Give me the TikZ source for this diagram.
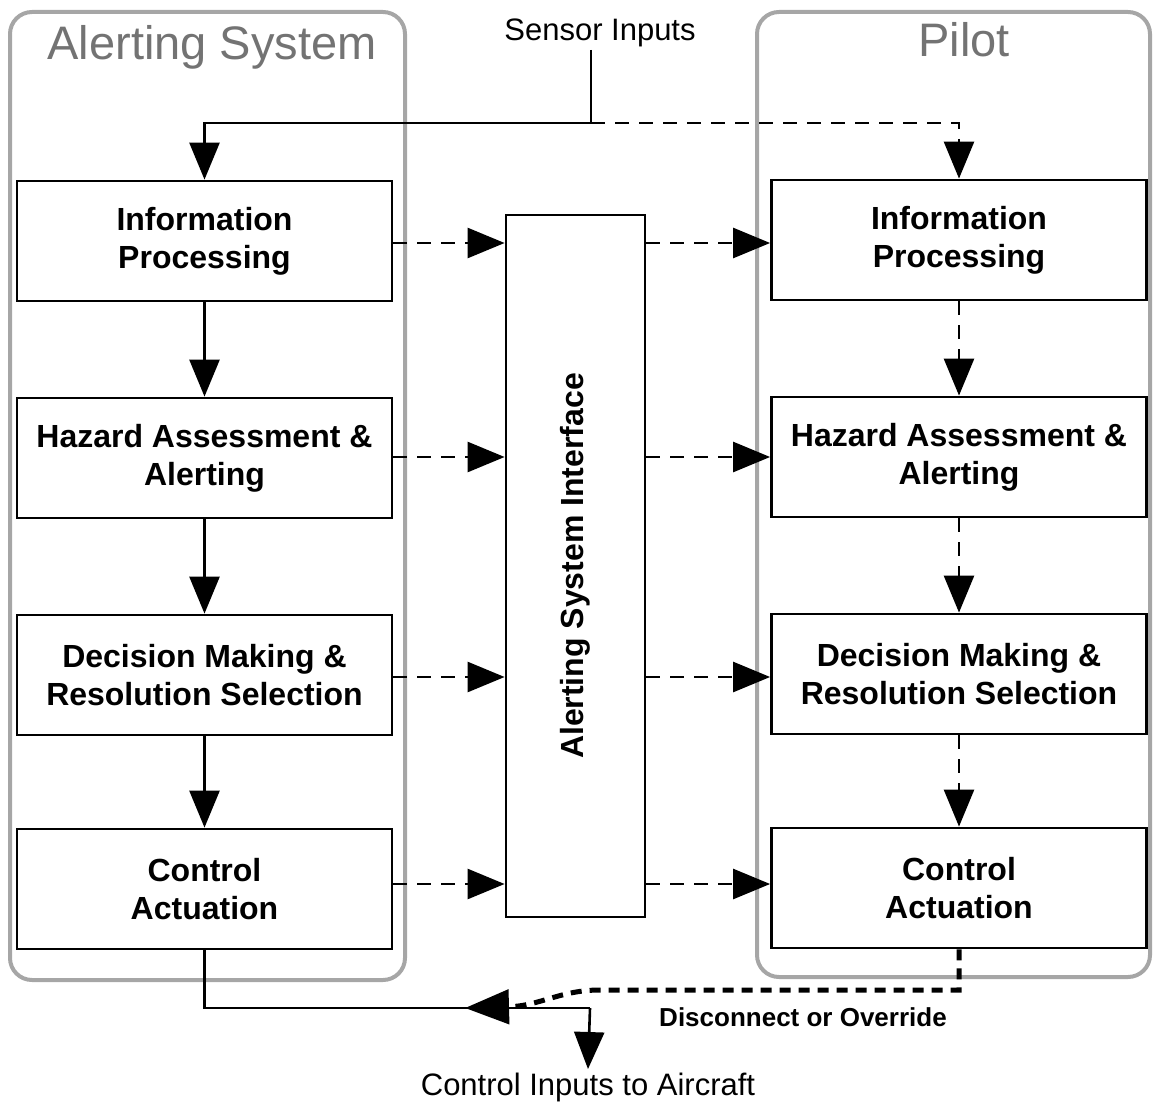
\documentclass[tikz,border=0pt]{standalone}
\usepackage{fontspec}
\setmainfont{Liberation Sans}
\usetikzlibrary{arrows.meta}
\begin{document}
\begin{tikzpicture}[x=1pt,y=-1pt,
  tip/.style={-{Triangle[length=37pt,width=30pt]}},
  conn/.style={line width=2.6pt},
  dconn/.style={line width=2.6pt,dash pattern=on 14pt off 10pt},
  block/.style={draw,line width=2.8pt,minimum width=375pt,minimum height=120pt,align=center,
    font=\fontsize{32}{38}\selectfont\bfseries,inner sep=0pt},
  group/.style={draw=black!35,line width=4pt,rounded corners=22pt},
  gtitle/.style={text=black!55,font=\fontsize{47}{50}\selectfont},
  label/.style={font=\fontsize{31}{36}\selectfont}]
\useasboundingbox (0,0) rectangle (1156,1107);
% groups
\draw[group] (10,12) rectangle (405,980);
\draw[group] (757,12) rectangle (1150,977);
\node[gtitle] (tA) at (212,47) {Alerting System};
\node[gtitle] (tP) at (964,40) {Pilot};
% left column
\node[block] (l1) at (204.5,241) {Information\\Processing};
\node[block] (l2) at (204.5,458) {Hazard Assessment \&\\Alerting};
\node[block] (l3) at (204.5,675) {Decision Making \&\\Resolution Selection};
\node[block] (l4) at (204.5,889) {Control\\Actuation};
% right column
\node[block] (r1) at (959,240) {Information\\Processing};
\node[block] (r2) at (959,457) {Hazard Assessment \&\\Alerting};
\node[block] (r3) at (959,674) {Decision Making \&\\Resolution Selection};
\node[block] (r4) at (959,888) {Control\\Actuation};
% interface
\node[draw,line width=2.8pt,minimum width=139pt,minimum height=702pt,inner sep=0pt] (ifc) at (575.5,566) {};
\node[rotate=90,font=\fontsize{32}{38}\selectfont\bfseries] (ifct) at (ifc.center) {Alerting System Interface};
% sensor inputs
\node[label] (sens) at (600,33) {Sensor Inputs};
\coordinate (jn) at (591,123);
\draw[conn] (591,50) -- (jn);
\draw[conn,tip] (jn) -| (l1.north);
\draw[dconn,tip] (jn) -| (r1.north);
% left vertical
\draw[conn,tip] (l1) -- (l2);
\draw[conn,tip] (l2) -- (l3);
\draw[conn,tip] (l3) -- (l4);
% right vertical
\draw[dconn,tip] (r1) -- (r2);
\draw[dconn,tip] (r2) -- (r3);
\draw[dconn,tip] (r3) -- (r4);
% horizontal dashed
\foreach \a/\b/\y in {l1/r1/243,l2/r2/457,l3/r3/677,l4/r4/884}{
  \draw[dconn,tip] (\a.east |- 0,\y) -- (ifc.west |- 0,\y);
  \draw[dconn,tip] (ifc.east |- 0,\y) -- (\b.west |- 0,\y);
}
% bottom
\coordinate (bj) at (590,1008);
\draw[conn] (l4.south) -- (l4.south |- bj) -- (bj);
\node[label] (cia) at (588,1087) {Control Inputs to Aircraft};
\draw[conn,tip] (bj) -- (cia.north);
\draw[line width=5pt,dash pattern=on 11pt off 8pt,-{Triangle[length=44pt,width=34pt]}]
  (r4.south) -- (959,990) -- (600,990) .. controls (560,990) and (540,1006) .. (465,1008);
\node[font=\fontsize{26}{30}\selectfont\bfseries] (dis) at (803,1017) {Disconnect or Override};
\end{tikzpicture}
\end{document}
